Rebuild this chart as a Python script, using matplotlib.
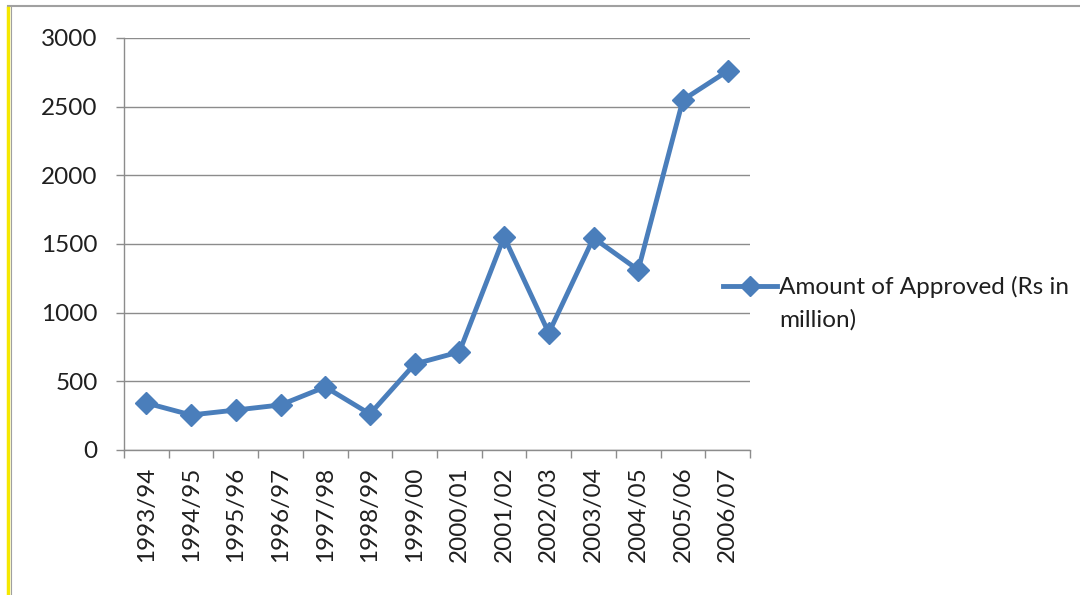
import numpy as np
import matplotlib.pyplot as plt
from matplotlib.lines import Line2D

# -----------------------------
# Data
# -----------------------------
years = ["1993/94", "1994/95", "1995/96", "1996/97", "1997/98", "1998/99", "1999/00",
         "2000/01", "2001/02", "2002/03", "2003/04", "2004/05", "2005/06", "2006/07"]
approved = [342, 255, 291, 328, 459, 262, 626, 714, 1551, 852, 1544, 1311, 2549, 2760]
series_label = "Amount of Approved (Rs in\nmillion)"
yticks = [0, 500, 1000, 1500, 2000, 2500, 3000]

plt.rcParams["font.family"] = ["Lato", "DejaVu Sans"]

blue = "#4a7ebb"
grey = "#8c8c8c"
txt = "#1f1f1f"
fs = 17.5

fig = plt.figure(figsize=(10.8, 5.95), dpi=100)
ax = fig.add_axes([124 / 1080, 1 - 450 / 595, (750 - 124) / 1080, (450 - 38) / 595])

x = np.arange(len(years))
ax.plot(x, approved, color=blue, lw=3.5, marker="D", markersize=11,
        markerfacecolor=blue, markeredgecolor=blue, zorder=3)

ax.set_xlim(-0.5, len(years) - 0.5)
ax.set_ylim(0, 3000)

# category labels centred, tick marks between categories
ax.set_xticks(x)
ax.set_xticklabels(years, rotation=90, fontsize=fs, color=txt)
ax.tick_params(axis="x", which="major", length=0, pad=12)
ax.set_xticks(np.arange(-0.5, len(years), 1), minor=True)
ax.tick_params(axis="x", which="minor", length=6, color=grey, width=1)

ax.set_yticks(yticks)
ax.set_yticklabels([str(v) for v in yticks], fontsize=fs, color=txt)
ax.tick_params(axis="y", length=6, color=grey, width=1, pad=13)

ax.grid(axis="y", color=grey, lw=1)
ax.set_axisbelow(True)
for s in ["top", "right"]:
    ax.spines[s].set_visible(False)
for s in ["left", "bottom"]:
    ax.spines[s].set_color(grey)
    ax.spines[s].set_linewidth(1)

# legend drawn by hand so the marker sits on the first text line
ly = 1 - 286 / 595
fig.add_artist(Line2D([723 / 1080, 777 / 1080], [ly, ly], color=blue, lw=3.5,
                      transform=fig.transFigure))
fig.add_artist(Line2D([750 / 1080], [ly], color=blue, marker="D", markersize=10,
                      transform=fig.transFigure))
fig.text(779 / 1080, 1 - 276 / 595, series_label, fontsize=fs, color=txt,
         va="top", ha="left", linespacing=1.6)

# frame edges seen in the screenshot
fig.add_artist(Line2D([8 / 1080, 1], [1 - 6 / 595] * 2, color="#a0a0a0", lw=1.5,
                      transform=fig.transFigure))
fig.add_artist(Line2D([8 / 1080] * 2, [0, 1 - 8 / 595], color="#f5e800", lw=2.5,
                      transform=fig.transFigure))
fig.add_artist(Line2D([10.5 / 1080] * 2, [0, 1 - 6 / 595], color="#a0a0a0", lw=0.8,
                      transform=fig.transFigure))

fig.savefig("out.png", dpi=100, facecolor="white")
